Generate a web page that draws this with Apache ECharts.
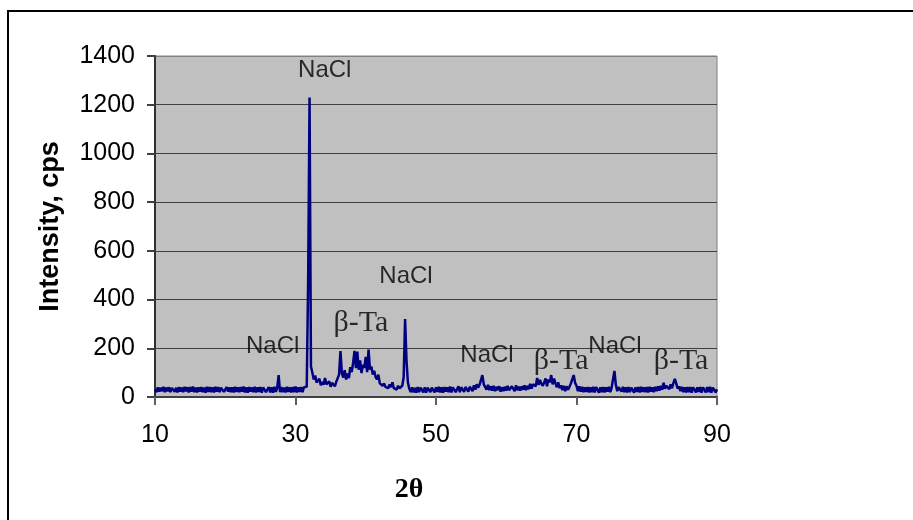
<!DOCTYPE html>
<html>
<head>
<meta charset="utf-8">
<script src="https://cdn.jsdelivr.net/npm/echarts@6/dist/echarts.min.js"></script>
<style>
html,body{margin:0;padding:0;background:#fff;}
#chart{width:913px;height:520px;}
</style>
</head>
<body>
<div id="chart"></div>
<script>
// 2θ sampling of the pattern
const thetaStart = 10;
const thetaStep = 0.2;
// Intensity (cps), one value per 0.2° from 10° to 90°
const intensity = [
  30,20,40,22,38,  24,42,20,39,23,  40,20,37,42,21,  38,19,41,22,39,  20,42,23,40,19,
  41,22,43,20,39,  19,40,22,41,20,  39,18,42,21,41,  20,40,19,42,22,  41,20,38,42,21,
  19,41,22,40,20,  40,19,42,21,40,  20,41,22,43,19,  40,18,41,22,39,  20,42,19,40,21,
  41,18,39,43,20,  22,41,19,40,18,  42,21,38,90,20,  41,20,39,19,42,  21,40,19,41,20,
  43,19,40,21,41,  20,40,38,42,480, 1230,125,100,72,88, 60,55,75,48,62, 50,78,52,46,64,
  42,58,50,44,62,  62,92,189,98,80, 110,72,96,78,122, 102,140,189,118,186, 112,150,98,132,120,
  165,102,195,112,125, 92,108,82,72,92, 56,62,46,56,42, 46,36,52,40,60, 36,42,30,46,36,
  40,46,82,320,150, 60,34,20,40,19, 38,18,41,20,39,  42,19,40,18,38,  41,20,38,43,19,
  40,21,42,19,40,  18,41,22,40,20,  43,19,40,41,20,  22,44,20,40,42,  21,41,45,22,42,
  44,24,48,30,52,  38,50,58,90,52,  46,30,50,28,44,  26,46,24,42,28,  44,22,40,24,42,
  26,46,28,24,44,  40,24,48,28,42,  26,44,30,48,28,  46,32,54,34,52,  56,44,78,50,70,
  55,46,60,76,44,  72,60,90,52,76,  56,40,60,36,48,  28,46,24,44,30,  42,56,62,90,58,
  46,24,44,22,42,  20,40,21,41,19,  40,20,42,19,41,  42,18,40,20,41,  19,40,22,42,20,
  38,46,107,50,24, 40,46,22,42,20,  40,19,41,20,39,  42,18,40,21,41,  19,42,21,40,20,
  41,19,42,22,40,  20,42,24,44,26,  46,30,58,34,46,  50,32,52,36,58,  74,56,34,44,24,
  42,20,40,19,41,  20,41,18,40,42,  19,40,21,41,18,  40,42,19,41,20,  42,18,39,41,19,
  32
];
// Peak annotations (label centre in data coordinates)
const annoText = ['NaCl','NaCl','\u03B2-Ta','NaCl','NaCl','\u03B2-Ta','NaCl','\u03B2-Ta'];
const annoX    = [34.16, 45.73, 39.32, 26.75, 57.26, 67.8, 75.48, 84.88];
const annoY    = [1342, 497, 304, 209, 170, 148, 209, 148];
const xTicks = {min:10, max:90, interval:20};
const yTicks = {min:0, max:1400, interval:200};

const lineData = intensity.map((v,i)=>[+(thetaStart + i*thetaStep).toFixed(2), v]);
const annoData = annoText.map((t,i)=>{
  const serif = t.indexOf('\u03B2') === 0;
  return {
    value:[annoX[i], annoY[i]],
    name:t,
    label:{
      fontFamily: serif ? '"Liberation Serif","Times New Roman",serif' : '"Liberation Sans",Arial,sans-serif',
      fontSize: serif ? 30 : 24
    }
  };
});

const chart = echarts.init(document.getElementById('chart'), null, {renderer:'canvas'});
chart.setOption({
  animation:false,
  backgroundColor:'#ffffff',
  grid:{left:155, top:56, right:196, bottom:123, show:true, backgroundColor:'#C0C0C0', borderColor:'#808080', borderWidth:1},
  xAxis:{
    type:'value', min:xTicks.min, max:xTicks.max, interval:xTicks.interval,
    name:'2\u03B8', nameLocation:'middle', nameGap:79,
    nameTextStyle:{fontFamily:'"Liberation Serif","Times New Roman",serif', fontWeight:'bold', fontSize:28, color:'#000', padding:[0,54,0,0]},
    axisLine:{show:true, onZero:false, lineStyle:{color:'#404040', width:2}},
    axisTick:{show:true, length:8, lineStyle:{color:'#606060', width:2}},
    axisLabel:{fontFamily:'"Liberation Sans",Arial,sans-serif', fontSize:25, color:'#000', margin:26},
    splitLine:{show:false}
  },
  yAxis:{
    type:'value', min:yTicks.min, max:yTicks.max, interval:yTicks.interval,
    name:'Intensity, cps', nameLocation:'middle', nameGap:91, nameMoveOverlap:false,
    nameTextStyle:{fontFamily:'"Liberation Sans",Arial,sans-serif', fontWeight:'bold', fontSize:27, color:'#000'},
    axisLine:{show:true, lineStyle:{color:'#303030', width:2}},
    axisTick:{show:true, length:8, lineStyle:{color:'#404040', width:2}},
    axisLabel:{fontFamily:'"Liberation Sans",Arial,sans-serif', fontSize:25, color:'#000', margin:20, formatter:v=>String(v)},
    splitLine:{show:true, lineStyle:{color:['#404040','#404040','#404040','#404040','#404040','#404040','#404040','#808080'], width:1}}
  },
  series:[
    {
      type:'line', data:lineData, showSymbol:false, symbol:'none',
      lineStyle:{color:'#000080', width:2.5}, z:3
    },
    {
      type:'scatter', data:annoData, symbolSize:0, silent:true, z:4,
      label:{show:true, position:'inside', color:'#000', formatter:p=>p.name}
    }
  ],
  graphic:[
    {type:'rect', shape:{x:8, y:11, width:1000, height:1000}, style:{fill:'none', stroke:'#000', lineWidth:2}, silent:true}
  ]
});
</script>
</body>
</html>
